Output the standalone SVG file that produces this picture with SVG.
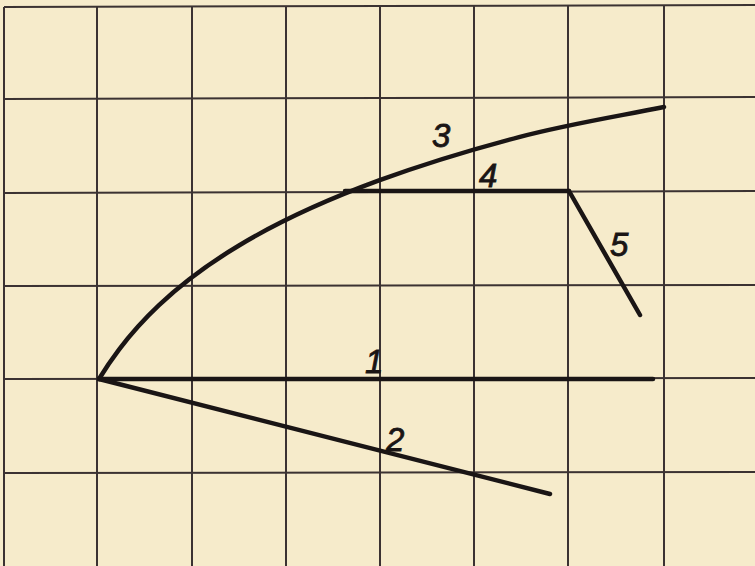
<svg xmlns="http://www.w3.org/2000/svg" width="755" height="566" viewBox="0 0 755 566">
<style>
.grid{stroke:#3b3232;stroke-width:2;fill:none}
.ink{stroke:#1a1515;stroke-width:4.5;fill:none;stroke-linecap:round;stroke-linejoin:round}
.lbl{font-family:"Liberation Sans",Arial,sans-serif;font-style:italic;font-size:33px;fill:#1a1515;stroke:#1a1515;stroke-width:0.8}
</style>
<rect width="755" height="566" fill="#f6ebcb"/>
<g id="grid">
<path class="grid" d="M4,7V566M97,7V566M192,7V566M286,7V566M380,7V566M474,6V566M568,6V566M664,5V566"/>
<path class="grid" d="M4,7L755,5M4,99L755,97M4,193L755,191M4,286L755,285M4,379L755,378M4,473L755,472"/>
</g>
<g id="connectors">
<g id="line1"><path class="ink" d="M99,379L653,379"/></g>
<g id="line2"><path class="ink" d="M99,379L550,494"/></g>
<g id="line3"><path class="ink" d="M99,379C105.67,368 112.33,358.35 119,349.55C132.33,331.95 145.67,317.7 159,305.13C185.67,279.99 212.33,261.47 239,245.47C285.67,217.47 332.33,197.57 379,180.46C425.67,163.35 472.33,149.42 519,137.1C567.33,124.34 615.67,116.67 664,107"/></g>
<g id="line4"><path class="ink" d="M345,191L569,191"/></g>
<g id="line5"><path class="ink" d="M569,191L640,315"/></g>
</g>
<g id="labels">
<text class="lbl" x="432" y="147">3</text>
<text class="lbl" x="479" y="187">4</text>
<text class="lbl" x="610" y="256">5</text>
<text class="lbl" x="365" y="373" font-size="28">1</text>
<text class="lbl" x="386" y="451" font-size="29">2</text>
</g>
</svg>
